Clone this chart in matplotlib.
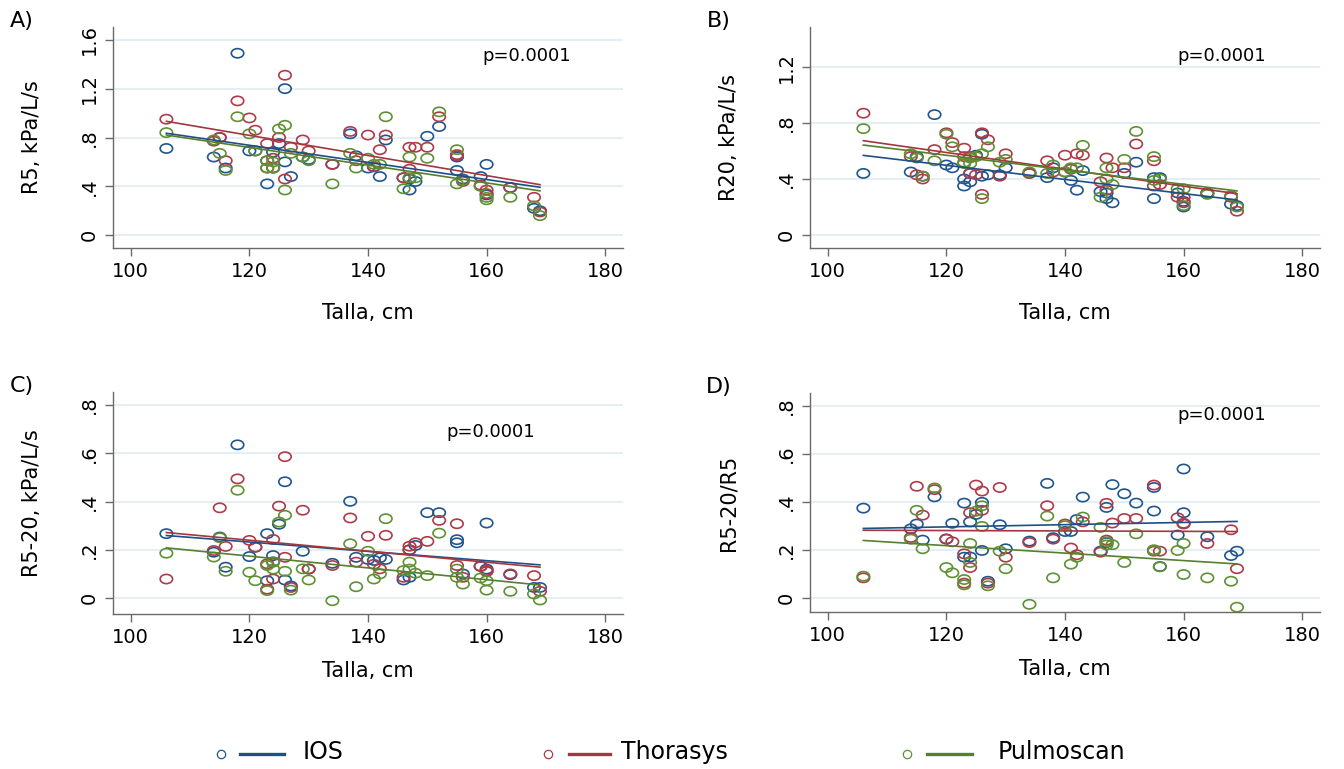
import numpy as np
import matplotlib
matplotlib.use('Agg')
import matplotlib.pyplot as plt
from matplotlib.path import Path
from matplotlib.transforms import Affine2D
from matplotlib.lines import Line2D
from matplotlib.ticker import FuncFormatter

# Talla (cm) of each child, shared by all panels and devices
talla = [106, 114, 115, 116, 118, 120, 121, 123, 123, 124, 124, 125, 126, 126, 127,
         129, 130, 134, 137, 138, 140, 141, 142, 143, 146, 147, 147, 148, 150, 152,
         155, 155, 156, 159, 160, 160, 164, 168, 169]

# A) R5, kPa/L/s
r5_ios = [0.71, 0.64, 0.80, 0.55, 1.49, 0.69, 0.69, 0.61, 0.42, 0.68, 0.55, 0.75, 1.20, 0.60, 0.48,
          0.64, 0.62, 0.58, 0.83, 0.65, 0.55, 0.56, 0.48, 0.78, 0.47, 0.37, 0.46, 0.44, 0.81, 0.89,
          0.64, 0.53, 0.46, 0.48, 0.58, 0.33, 0.39, 0.22, 0.20]
r5_thorasys = [0.95, 0.77, 0.80, 0.61, 1.10, 0.96, 0.86, 0.75, 0.55, 0.63, 0.55, 0.80, 1.31, 0.46, 0.72,
               0.78, 0.69, 0.58, 0.85, 0.61, 0.82, 0.56, 0.70, 0.82, 0.47, 0.72, 0.54, 0.72, 0.72, 0.97,
               0.65, 0.66, 0.44, 0.41, 0.37, 0.34, 0.39, 0.31, 0.19]
r5_pulmoscan = [0.84, 0.78, 0.67, 0.53, 0.97, 0.83, 0.69, 0.61, 0.55, 0.55, 0.60, 0.87, 0.90, 0.37, 0.67,
                0.64, 0.61, 0.42, 0.67, 0.55, 0.63, 0.58, 0.58, 0.97, 0.38, 0.64, 0.47, 0.47, 0.63, 1.01,
                0.70, 0.42, 0.45, 0.40, 0.31, 0.29, 0.31, 0.24, 0.16]

# B) R20, kPa/L/s
r20_ios = [0.44, 0.45, 0.56, 0.42, 0.86, 0.50, 0.48, 0.40, 0.35, 0.44, 0.38, 0.57, 0.72, 0.42, 0.43,
           0.43, 0.48, 0.44, 0.41, 0.48, 0.45, 0.39, 0.32, 0.46, 0.31, 0.26, 0.30, 0.23, 0.44, 0.52,
           0.41, 0.26, 0.41, 0.30, 0.24, 0.20, 0.30, 0.22, 0.21]
r20_thorasys = [0.87, 0.56, 0.43, 0.40, 0.61, 0.73, 0.66, 0.62, 0.56, 0.44, 0.56, 0.43, 0.73, 0.29, 0.68,
                0.42, 0.58, 0.44, 0.53, 0.45, 0.57, 0.47, 0.58, 0.57, 0.38, 0.55, 0.32, 0.48, 0.48, 0.65,
                0.53, 0.35, 0.36, 0.27, 0.27, 0.23, 0.30, 0.27, 0.17]
r20_pulmoscan = [0.76, 0.58, 0.55, 0.42, 0.53, 0.72, 0.63, 0.52, 0.51, 0.51, 0.55, 0.56, 0.58, 0.26, 0.63,
                 0.52, 0.54, 0.45, 0.44, 0.50, 0.45, 0.48, 0.48, 0.64, 0.27, 0.48, 0.40, 0.36, 0.54, 0.74,
                 0.56, 0.39, 0.40, 0.33, 0.33, 0.21, 0.29, 0.28, 0.20]

# C) R5-20, kPa/L/s
r520_ios = [0.267, 0.19, 0.253, 0.128, 0.635, 0.172, 0.211, 0.267, 0.072, 0.176, 0.15, 0.306, 0.482, 0.075, 0.05,
            0.194, 0.12, 0.144, 0.401, 0.169, 0.16, 0.156, 0.167, 0.16, 0.075, 0.20, 0.086, 0.218, 0.354, 0.354,
            0.242, 0.229, 0.10, 0.131, 0.311, 0.12, 0.097, 0.044, 0.044]
r520_thorasys = [0.079, 0.197, 0.374, 0.214, 0.494, 0.239, 0.211, 0.142, 0.037, 0.243, 0.079, 0.381, 0.586, 0.169, 0.044,
                 0.364, 0.121, 0.135, 0.332, 0.149, 0.256, 0.14, 0.121, 0.26, 0.086, 0.215, 0.20, 0.229, 0.235, 0.322,
                 0.308, 0.135, 0.086, 0.132, 0.114, 0.11, 0.10, 0.093, 0.028]
r520_pulmoscan = [0.186, 0.17, 0.25, 0.111, 0.447, 0.107, 0.072, 0.135, 0.031, 0.149, 0.12, 0.315, 0.343, 0.111, 0.033,
                  0.121, 0.075, -0.011, 0.225, 0.047, 0.194, 0.079, 0.10, 0.329, 0.114, 0.149, 0.12, 0.103, 0.093, 0.269,
                  0.086, 0.12, 0.058, 0.083, 0.072, 0.033, 0.028, 0.017, -0.008]

# D) R5-20/R5
ratio_ios = [0.373, 0.287, 0.307, 0.24, 0.42, 0.245, 0.31, 0.394, 0.169, 0.316, 0.17, 0.347, 0.397, 0.197, 0.069,
             0.304, 0.204, 0.236, 0.476, 0.25, 0.276, 0.276, 0.326, 0.419, 0.194, 0.376, 0.23, 0.471, 0.433, 0.394,
             0.459, 0.361, 0.13, 0.261, 0.536, 0.354, 0.254, 0.176, 0.194]
ratio_thorasys = [0.083, 0.251, 0.464, 0.344, 0.45, 0.244, 0.233, 0.183, 0.061, 0.354, 0.126, 0.469, 0.444, 0.364, 0.061,
                  0.459, 0.169, 0.23, 0.383, 0.244, 0.307, 0.207, 0.179, 0.316, 0.19, 0.393, 0.24, 0.311, 0.33, 0.33,
                  0.469, 0.194, 0.194, 0.333, 0.307, 0.31, 0.226, 0.283, 0.121]
ratio_pulmoscan = [0.09, 0.244, 0.364, 0.204, 0.457, 0.126, 0.104, 0.076, 0.054, 0.226, 0.147, 0.36, 0.383, 0.297, 0.05,
                   0.194, 0.121, -0.027, 0.34, 0.083, 0.30, 0.14, 0.169, 0.336, 0.293, 0.233, 0.22, 0.221, 0.147, 0.266,
                   0.2, 0.197, 0.129, 0.197, 0.097, 0.226, 0.083, 0.069, -0.039]

devices = ['IOS', 'Thorasys', 'Pulmoscan']
marker_colors = ['#1f5590', '#b03a48', '#5f9134']
line_colors = ['#1f4f86', '#a4363f', '#567f2e']

W, H = 1344, 769
fig = plt.figure(figsize=(W / 100, H / 100), dpi=100)
fig.patch.set_facecolor('white')

# ellipse marker (the source picture is stretched horizontally)
ellipse = Path.unit_circle().transformed(Affine2D().scale(1.35, 1.0))


def stata_fmt(v, pos):
    s = f"{v:g}"
    if s.startswith('0.'):
        s = s[1:]
    return s


def px_axes(left, top, right, bottom):
    return fig.add_axes([left / W, 1 - bottom / H, (right - left) / W, (bottom - top) / H])


panels = [
    # letter, ylabel, series, yticks, ylim, (left, top, right, bottom), p-text position, xlabel offset
    ('A)', 'R5, kPa/L/s', (r5_ios, r5_thorasys, r5_pulmoscan),
     [0, 0.4, 0.8, 1.2, 1.6], (-0.105, 1.705), (113, 27, 623, 248), (0.812, 0.87), 55),
    ('B)', 'R20, kPa/L/s', (r20_ios, r20_thorasys, r20_pulmoscan),
     [0, 0.4, 0.8, 1.2], (-0.093, 1.486), (810, 27, 1320, 248), (0.808, 0.87), 55),
    ('C)', 'R5-20, kPa/L/s', (r520_ios, r520_thorasys, r520_pulmoscan),
     [0, 0.2, 0.4, 0.6, 0.8], (-0.066, 0.854), (113, 392, 623, 614), (0.74, 0.82), 47),
    ('D)', 'R5-20/R5', (ratio_ios, ratio_thorasys, ratio_pulmoscan),
     [0, 0.2, 0.4, 0.6, 0.8], (-0.059, 0.852), (810, 393, 1320, 612), (0.808, 0.90), 47),
]

x = np.array(talla, dtype=float)
xfit = np.array([x.min(), x.max()])

for letter, ylabel, series, yticks, ylim, rect, ptext, xl_off in panels:
    ax = px_axes(*rect)
    width = rect[2] - rect[0]
    height = rect[3] - rect[1]
    for vals, mc in zip(series, marker_colors):
        ax.scatter(x, vals, marker=ellipse, s=80, facecolors='none',
                   edgecolors=mc, linewidths=1.2, zorder=3)
    for vals, lc in zip(series, line_colors):
        slope, intercept = np.polyfit(x, np.array(vals), 1)
        ax.plot(xfit, intercept + slope * xfit, color=lc, lw=1.2, zorder=4)

    ax.set_xlim(97, 183)
    ax.set_ylim(*ylim)
    ax.set_xticks([100, 120, 140, 160, 180])
    ax.set_yticks(yticks)
    ax.yaxis.set_major_formatter(FuncFormatter(stata_fmt))
    ax.grid(axis='y', color='#e3edf1', lw=1.3, zorder=0)
    ax.set_axisbelow(True)
    for side in ['top', 'right']:
        ax.spines[side].set_visible(False)
    for side in ['left', 'bottom']:
        ax.spines[side].set_color('#6a6a6a')
        ax.spines[side].set_linewidth(1.0)
    ax.tick_params(axis='both', direction='out', length=6, width=1.0, color='#6a6a6a',
                   labelsize=14, pad=4)
    ax.tick_params(axis='y', labelrotation=90)
    for lab in ax.get_yticklabels():
        lab.set_va('center')

    ax.set_xlabel('Talla, cm', fontsize=15)
    ax.xaxis.set_label_coords(0.5, -xl_off / height)
    ax.set_ylabel(ylabel, fontsize=15)
    # right edge of the rotated label sits ~71 px left of the spine
    ax.yaxis.set_label_coords(-71 / width, 0.5)

    ax.text(ptext[0], ptext[1], 'p=0.0001', transform=ax.transAxes,
            ha='center', va='center', fontsize=13)

    fig.text((rect[0] - 91) / W, 1 - (rect[1] - 6) / H, letter, fontsize=16,
             ha='center', va='center')

# legend along the bottom
leg_y = 1 - 754 / H
legend_items = [(221, 240, 284, 303), (548, 569, 610, 621), (907, 927, 972, 998)]
for (mx, l0, l1, tx), name, mc, lc in zip(legend_items, devices, marker_colors, line_colors):
    fig.add_artist(Line2D([mx / W], [leg_y], marker='o', markersize=6, markerfacecolor='none',
                          markeredgecolor=mc, markeredgewidth=0.9, linestyle='none',
                          transform=fig.transFigure))
    fig.add_artist(Line2D([l0 / W, l1 / W], [leg_y, leg_y], color=lc, lw=2.4,
                          transform=fig.transFigure))
    fig.text(tx / W, leg_y + 0.003, name, fontsize=17, ha='left', va='center')

fig.savefig('out.png', dpi=100, facecolor='white')
